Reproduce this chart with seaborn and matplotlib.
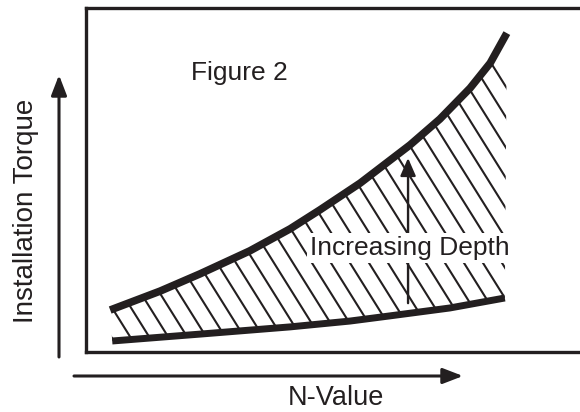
import numpy as np
import pandas as pd
import matplotlib
matplotlib.use("Agg")
import matplotlib.pyplot as plt
import seaborn as sns
from matplotlib.collections import LineCollection

# ---- data (arbitrary units 0..100) ----
upper_n = [4.8, 14.7, 22.6, 32.5, 40.5, 46.4, 54.4, 64.3, 70.2, 76.2, 80.2, 83.5]
upper_torque = [12.2, 17.7, 22.7, 29.4, 35.8, 41.3, 49.1, 60.2, 67.7, 76.7, 84.0, 92.7]
lower_n = [5.2, 22.6, 40.5, 52.4, 60.3, 72.2, 83.1]
lower_torque = [3.2, 5.2, 7.3, 9.0, 10.5, 12.8, 15.7]

title_text = "Figure 2"
depth_text = "Increasing Depth"
xlabel_text = "N-Value"
ylabel_text = "Installation Torque"

INK = "#231f20"

sns.set_theme(style="white")
plt.rcParams["font.family"] = ["Liberation Sans", "DejaVu Sans"]

W, H = 580, 412
fig = plt.figure(figsize=(W / 100, H / 100), dpi=100)
fig.patch.set_facecolor("white")
# box: left 86px, top 8px, bottom 352px, right beyond the image edge
ax = fig.add_axes([86 / W, (H - 352) / H, 504 / W, 344 / H])

up = pd.DataFrame({"N": upper_n, "T": upper_torque})
lo = pd.DataFrame({"N": lower_n, "T": lower_torque})

# region between the curves (white fill used as clip for the hatching)
poly_x = np.r_[up["N"].values, lo["N"].values[::-1]]
poly_y = np.r_[up["T"].values, lo["T"].values[::-1]]
region = ax.fill(poly_x, poly_y, facecolor="white", edgecolor="none", zorder=1)[0]

# diagonal hatching "\\" (about 58 deg in pixel space, ~19px apart)
px_per_x = 504 / 100.0
px_per_y = 344 / 100.0
k = -np.tan(np.radians(58)) * px_per_x / px_per_y
step = 19 / px_per_x
cs = np.arange(116.2, 0, -step)
segs = []
for c in cs:
    x0, x1 = c - 60, c + 5
    segs.append([(x0, k * (x0 - c)), (x1, k * (x1 - c))])
lc = LineCollection(segs, colors=INK, linewidths=1.5, zorder=2)
ax.add_collection(lc)
lc.set_clip_path(region)

# thick boundary curves
sns.lineplot(data=up, x="N", y="T", ax=ax, color=INK, linewidth=5.5,
             estimator=None, sort=False, zorder=4, solid_capstyle="butt",
             solid_joinstyle="round")
sns.lineplot(data=lo, x="N", y="T", ax=ax, color=INK, linewidth=5.0,
             estimator=None, sort=False, zorder=4, solid_capstyle="butt",
             solid_joinstyle="round")

ax.set_xlim(0, 100)
ax.set_ylim(0, 100)
ax.set_xlabel("")
ax.set_ylabel("")
ax.set_xticks([])
ax.set_yticks([])
for side in ["left", "top", "bottom"]:
    ax.spines[side].set_visible(True)
    ax.spines[side].set_linewidth(2.4)
    ax.spines[side].set_color(INK)
ax.spines["right"].set_visible(False)

# "Increasing Depth" arrow inside the band
ax.annotate("", xy=(63.9, 56.4), xytext=(63.9, 14.2), xycoords="data",
            arrowprops=dict(arrowstyle="-|>,head_width=0.235,head_length=0.54",
                            lw=1.7, color=INK, shrinkA=0, shrinkB=0,
                            mutation_scale=20), zorder=3)

ax.text(64.3, (352 - 255) / px_per_y, depth_text, ha="center", va="baseline",
        fontsize=19, color=INK, zorder=5,
        bbox=dict(boxstyle="square,pad=0.12", facecolor="white", edgecolor="none"))

ax.text((239 - 86) / px_per_x, (352 - 80) / px_per_y, title_text, ha="center",
        va="baseline", fontsize=19, color=INK, zorder=5)

# axis arrows outside the box
ax.annotate("", xy=(-27 / 504, 277 / 344), xytext=(-27 / 504, -5 / 344),
            xycoords="axes fraction", annotation_clip=False,
            arrowprops=dict(arrowstyle="-|>,head_width=0.235,head_length=0.61",
                            lw=2.2, color=INK, shrinkA=0, shrinkB=0,
                            mutation_scale=20))
ax.annotate("", xy=(377 / 504, -24 / 344), xytext=(-12 / 504, -24 / 344),
            xycoords="axes fraction", annotation_clip=False,
            arrowprops=dict(arrowstyle="-|>,head_width=0.235,head_length=0.61",
                            lw=2.2, color=INK, shrinkA=0, shrinkB=0,
                            mutation_scale=20))

ax.text((336 - 86) / 504, (352 - 405) / 344, xlabel_text, transform=ax.transAxes,
        ha="center", va="baseline", fontsize=19.5, color=INK, clip_on=False)
ax.text((33 - 86) / 504, (352 - 211) / 344, ylabel_text, transform=ax.transAxes,
        ha="center", va="baseline", rotation=90, rotation_mode="anchor",
        fontsize=20, color=INK, clip_on=False)

fig.savefig("out.png", dpi=100)
